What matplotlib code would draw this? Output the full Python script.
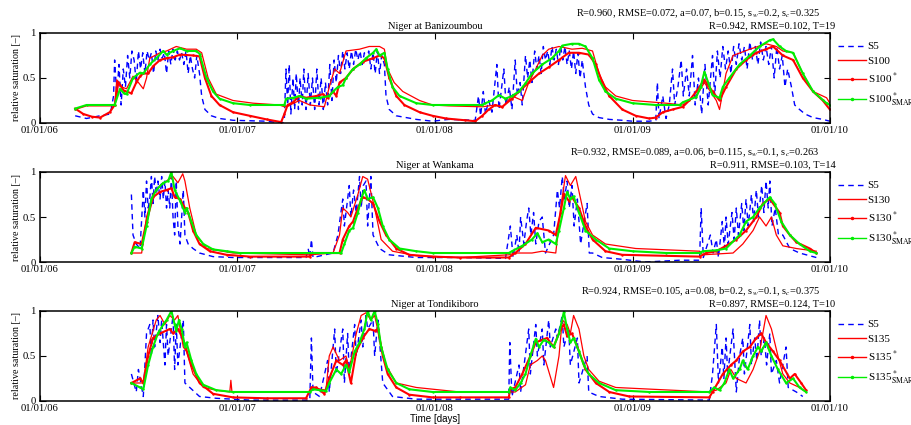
import numpy as np
import matplotlib
matplotlib.use('Agg')
import matplotlib.pyplot as plt

plt.rcParams['font.family'] = 'Liberation Serif'
plt.rcParams['mathtext.fontset'] = 'stix'

# days since 01/01/06, value = relative saturation
year_ticks = [0, 365, 730, 1096, 1461]
year_labels = ['01/01/06', '01/01/07', '01/01/08', '01/01/09', '01/01/10']

# ---------------- Niger at Banizoumbou ----------------
ban_s5 = [(65,0.08),(86,0.05),(111,0.08),(130,0.1),(136,0.3),(138,0.7),(142,0.3),(146,0.65),(150,0.2),(154,0.6),(158,0.4),
          (162,0.75),(166,0.5),(170,0.8),(174,0.7),(178,0.45),(182,0.8),(186,0.6),(190,0.78),(194,0.55),(198,0.8),(202,0.7),
          (206,0.78),(210,0.55),(214,0.8),(218,0.7),(222,0.82),(226,0.72),(230,0.78),(234,0.55),(238,0.8),(242,0.65),(246,0.82),
          (250,0.7),(254,0.8),(258,0.7),(262,0.78),(266,0.65),(270,0.8),(274,0.55),(278,0.75),(282,0.6),(286,0.5),(290,0.75),
          (295,0.55),(299,0.3),(305,0.15),(317,0.08),(332,0.05),(357,0.03),(419,0.02),(449,0.0),
          (452,0.05),(455,0.6),(458,0.2),(461,0.65),(464,0.1),(468,0.5),(471,0.15),(474,0.55),(478,0.15),(481,0.5),(485,0.2),
          (488,0.6),(492,0.15),(496,0.55),(500,0.2),(504,0.5),(508,0.15),(512,0.6),(516,0.2),(520,0.5),(524,0.15),(528,0.45),
          (532,0.2),(536,0.65),(540,0.25),(544,0.7),(548,0.45),(552,0.75),(556,0.55),(560,0.8),(564,0.6),(568,0.78),(572,0.6),
          (576,0.8),(580,0.65),(584,0.82),(588,0.7),(592,0.8),(596,0.65),(600,0.78),(604,0.7),(608,0.8),(612,0.6),(616,0.78),
          (620,0.55),(624,0.8),(628,0.55),(632,0.75),(637,0.65),(640,0.3),(646,0.15),(659,0.08),(696,0.04),(726,0.02),(756,0.04),
          (805,0.03),(811,0.3),(815,0.08),(820,0.35),(824,0.1),(830,0.25),(836,0.12),(845,0.65),(849,0.15),(858,0.6),(862,0.2),
          (868,0.4),(873,0.15),(879,0.7),(883,0.3),(888,0.45),(892,0.2),(898,0.75),(902,0.5),(906,0.7),(910,0.45),(915,0.8),
          (919,0.6),(923,0.75),(927,0.55),(931,0.85),(935,0.7),(939,0.8),(943,0.65),(947,0.85),(951,0.7),(955,0.82),(959,0.65),
          (963,0.85),(967,0.7),(971,0.85),(975,0.65),(979,0.8),(983,0.6),(987,0.8),(991,0.55),(995,0.78),(999,0.5),(1003,0.7),
          (1009,0.4),(1015,0.2),(1022,0.1),(1034,0.06),(1053,0.04),(1077,0.03),(1096,0.02),(1127,0.02),(1139,0.03),
          (1142,0.45),(1145,0.05),(1152,0.3),(1158,0.05),(1164,0.2),(1170,0.6),(1174,0.2),(1180,0.4),(1186,0.7),(1190,0.3),
          (1196,0.6),(1201,0.3),(1207,0.75),(1212,0.2),(1218,0.5),(1224,0.1),(1230,0.65),(1236,0.2),(1244,0.75),(1248,0.3),
          (1253,0.8),(1258,0.5),(1263,0.85),(1268,0.6),(1273,0.8),(1278,0.55),(1283,0.85),(1288,0.65),(1293,0.88),(1298,0.7),
          (1303,0.85),(1308,0.6),(1313,0.9),(1318,0.7),(1323,0.85),(1328,0.65),(1333,0.9),(1338,0.7),(1343,0.85),(1348,0.65),
          (1353,0.85),(1358,0.5),(1363,0.85),(1368,0.6),(1373,0.75),(1378,0.4),(1383,0.6),(1390,0.4),(1396,0.2),(1405,0.15),
          (1415,0.1),(1430,0.06),(1448,0.04),(1461,0.02)]
ban_s = [(65,0.15),(86,0.19),(138,0.19),(142,0.48),(151,0.4),(160,0.38),(172,0.52),(182,0.45),(191,0.38),(197,0.5),(203,0.72),
         (222,0.78),(234,0.8),(252,0.85),(271,0.82),(289,0.82),(299,0.78),(311,0.5),(326,0.32),(357,0.25),(394,0.22),(443,0.2),
         (452,0.18),(462,0.2),(480,0.25),(499,0.2),(526,0.18),(535,0.4),(545,0.6),(554,0.55),(566,0.8),(591,0.82),(609,0.85),
         (628,0.85),(637,0.82),(643,0.6),(655,0.45),(671,0.35),(702,0.25),(726,0.2),(756,0.19),(818,0.18),(842,0.2),(855,0.17),
         (873,0.3),(892,0.25),(904,0.45),(917,0.6),(929,0.75),(941,0.82),(960,0.85),(984,0.82),(1003,0.83),(1022,0.8),(1034,0.55),
         (1046,0.4),(1065,0.3),(1096,0.25),(1158,0.22),(1189,0.2),(1201,0.25),(1214,0.3),(1229,0.45),(1251,0.25),(1257,0.15),
         (1269,0.55),(1282,0.75),(1313,0.82),(1343,0.88),(1362,0.85),(1374,0.8),(1393,0.78),(1411,0.55),(1430,0.35),(1455,0.28),
         (1461,0.22)]
ban_sstar = [(65,0.16),(80,0.1),(96,0.07),(111,0.06),(129,0.12),(138,0.2),(145,0.45),(155,0.36),(169,0.33),(178,0.45),(185,0.52),
             (191,0.55),(200,0.55),(209,0.63),(222,0.7),(234,0.72),(246,0.73),(259,0.76),(283,0.75),(295,0.74),(305,0.5),(317,0.3),
             (332,0.2),(357,0.12),(388,0.08),(419,0.04),(446,0.01),(452,0.1),(458,0.2),(468,0.23),(480,0.3),(492,0.28),(511,0.3),
             (523,0.32),(532,0.28),(542,0.35),(548,0.3),(554,0.45),(566,0.5),(579,0.6),(597,0.68),(616,0.72),(628,0.75),(637,0.72),
             (646,0.5),(659,0.3),(674,0.2),(702,0.12),(726,0.08),(751,0.05),(787,0.03),(805,0.02),(818,0.08),(830,0.15),(842,0.2),
             (855,0.18),(873,0.27),(886,0.35),(904,0.45),(923,0.55),(941,0.62),(960,0.7),(978,0.78),(997,0.78),(1015,0.76),
             (1028,0.65),(1040,0.45),(1053,0.3),(1077,0.15),(1102,0.08),(1127,0.05),(1139,0.06),(1152,0.12),(1170,0.15),(1189,0.18),
             (1201,0.25),(1214,0.35),(1229,0.48),(1244,0.35),(1257,0.25),(1269,0.4),(1288,0.6),(1306,0.7),(1325,0.78),(1343,0.82),
             (1356,0.85),(1374,0.75),(1393,0.7),(1411,0.5),(1430,0.35),(1448,0.25),(1461,0.15)]
ban_smar = [(65,0.16),(86,0.2),(138,0.2),(148,0.38),(155,0.33),(160,0.32),(172,0.5),(185,0.56),(191,0.55),(203,0.65),(215,0.72),
            (228,0.8),(234,0.76),(246,0.8),(259,0.83),(271,0.8),(289,0.8),(295,0.77),(308,0.5),(320,0.35),(332,0.27),(357,0.22),
            (388,0.2),(452,0.2),(455,0.27),(468,0.28),(480,0.3),(492,0.27),(517,0.28),(535,0.3),(542,0.35),(551,0.4),(560,0.42),
            (566,0.5),(579,0.6),(591,0.65),(603,0.72),(616,0.78),(622,0.82),(628,0.75),(637,0.78),(643,0.6),(652,0.4),(665,0.3),
            (696,0.22),(726,0.2),(818,0.2),(824,0.22),(836,0.25),(849,0.31),(861,0.27),(873,0.3),(886,0.35),(898,0.44),(910,0.55),
            (929,0.65),(947,0.72),(960,0.8),(966,0.86),(984,0.88),(997,0.88),(1009,0.85),(1022,0.72),(1034,0.48),(1046,0.35),
            (1065,0.27),(1096,0.22),(1139,0.2),(1183,0.2),(1189,0.23),(1214,0.29),(1222,0.4),(1229,0.57),(1244,0.31),(1257,0.28),
            (1263,0.4),(1275,0.5),(1294,0.65),(1313,0.75),(1331,0.85),(1350,0.92),(1356,0.93),(1368,0.85),(1380,0.8),(1393,0.78),
            (1411,0.55),(1430,0.35),(1455,0.22),(1461,0.2)]

# ---------------- Niger at Wankama ----------------
wan_s5 = [(169,0.75),(172,0.3),(178,0.2),(185,0.15),(191,0.8),(194,0.5),(197,0.9),(200,0.6),(203,0.7),(206,0.95),(209,0.65),
          (212,0.95),(215,0.75),(218,0.9),(222,0.7),(225,0.95),(228,0.7),(231,0.9),(234,0.6),(237,0.8),(240,0.6),(243,0.95),
          (246,0.5),(249,0.3),(252,0.9),(255,0.4),(259,0.2),(265,0.8),(268,0.3),(274,0.2),(283,0.15),(295,0.1),(320,0.06),
          (357,0.05),(492,0.05),(496,0.15),(499,0.05),(502,0.25),(505,0.05),(542,0.1),(551,0.3),(560,0.7),(563,0.4),(567,0.6),
          (572,0.85),(575,0.5),(580,0.8),(585,0.55),(591,0.95),(594,0.6),(598,0.85),(603,0.9),(606,0.4),(612,0.95),(616,0.3),
          (628,0.15),(646,0.08),(696,0.05),(776,0.05),(861,0.04),(870,0.4),(875,0.05),(882,0.3),(886,0.1),(889,0.5),(895,0.2),
          (900,0.45),(904,0.6),(908,0.3),(913,0.55),(917,0.2),(923,0.45),(929,0.5),(935,0.1),(950,0.3),(957,0.8),(961,0.6),
          (966,0.95),(970,0.7),(975,0.9),(979,0.6),(984,0.85),(988,0.4),(994,0.7),(1000,0.2),(1012,0.65),(1016,0.1),(1022,0.1),
          (1040,0.05),(1077,0.03),(1120,0.0),(1183,0.02),(1220,0.02),(1223,0.6),(1227,0.05),(1240,0.3),(1245,0.1),(1251,0.25),
          (1255,0.05),(1262,0.45),(1266,0.15),(1269,0.5),(1273,0.2),(1280,0.55),(1284,0.25),(1288,0.6),(1292,0.3),(1298,0.65),
          (1302,0.35),(1306,0.7),(1310,0.4),(1316,0.75),(1320,0.45),(1325,0.8),(1329,0.5),(1335,0.85),(1339,0.55),(1343,0.9),
          (1347,0.6),(1350,0.9),(1354,0.4),(1360,0.6),(1366,0.3),(1374,0.3),(1387,0.15),(1405,0.1),(1436,0.05)]
wan_s = [(169,0.1),(188,0.1),(197,0.5),(209,0.75),(222,0.85),(234,0.9),(246,0.95),(255,0.88),(264,0.98),(268,0.9),(277,0.6),
         (289,0.3),(308,0.15),(357,0.1),(499,0.08),(542,0.1),(554,0.3),(560,0.6),(569,0.55),(575,0.5),(588,0.75),(597,0.95),
         (606,0.92),(619,0.6),(631,0.25),(652,0.12),(696,0.07),(776,0.05),(867,0.08),(879,0.1),(910,0.1),(929,0.12),(954,0.1),
         (963,0.6),(972,0.96),(981,0.85),(991,0.95),(1000,0.7),(1009,0.45),(1022,0.3),(1046,0.2),(1102,0.15),(1220,0.12),
         (1226,0.08),(1282,0.1),(1300,0.2),(1319,0.35),(1331,0.5),(1343,0.4),(1353,0.5),(1362,0.3),(1374,0.18),(1399,0.15),
         (1436,0.12)]
wan_sstar = [(169,0.1),(175,0.22),(188,0.2),(197,0.45),(209,0.72),(222,0.78),(234,0.8),(243,0.82),(249,0.72),(259,0.7),(268,0.6),
             (274,0.55),(283,0.35),(295,0.2),(314,0.12),(345,0.08),(388,0.06),(499,0.06),(505,0.1),(554,0.1),(560,0.25),(572,0.4),
             (579,0.45),(588,0.6),(597,0.72),(606,0.7),(616,0.65),(628,0.45),(640,0.3),(659,0.15),(683,0.08),(726,0.06),(776,0.05),
             (867,0.05),(879,0.1),(898,0.2),(917,0.38),(941,0.35),(954,0.3),(963,0.55),(969,0.76),(978,0.68),(984,0.72),(997,0.6),
             (1009,0.4),(1022,0.25),(1046,0.12),(1077,0.08),(1220,0.06),(1232,0.1),(1251,0.12),(1269,0.18),(1288,0.25),(1306,0.35),
             (1325,0.5),(1337,0.65),(1350,0.7),(1368,0.55),(1374,0.4),(1387,0.3),(1399,0.22),(1424,0.15),(1436,0.1)]
wan_smar = [(169,0.1),(175,0.17),(188,0.15),(197,0.4),(206,0.7),(215,0.8),(228,0.88),(237,0.9),(243,1.0),(249,0.8),(259,0.68),
            (268,0.55),(271,0.6),(280,0.45),(289,0.3),(302,0.2),(320,0.14),(345,0.12),(369,0.1),(557,0.1),(563,0.2),(572,0.35),
            (579,0.38),(588,0.55),(594,0.7),(600,0.8),(606,0.7),(616,0.72),(625,0.6),(634,0.4),(646,0.25),(665,0.15),(696,0.12),
            (726,0.1),(867,0.1),(873,0.12),(892,0.18),(910,0.25),(920,0.32),(929,0.22),(941,0.25),(954,0.2),(960,0.35),(969,0.6),
            (975,0.78),(981,0.7),(987,0.73),(997,0.55),(1009,0.35),(1028,0.25),(1053,0.15),(1096,0.12),(1158,0.1),(1220,0.1),
            (1226,0.12),(1251,0.13),(1269,0.15),(1294,0.3),(1306,0.45),(1319,0.5),(1331,0.6),(1350,0.72),(1359,0.65),(1371,0.45),
            (1387,0.3),(1405,0.2),(1424,0.12),(1436,0.1)]

# ---------------- Niger at Tondikiboro ----------------
ton_s5 = [(169,0.3),(178,0.1),(182,0.35),(191,0.05),(197,0.75),(203,0.85),(206,0.5),(209,0.9),(212,0.6),(218,0.95),(222,0.65),
          (225,0.9),(231,0.4),(234,0.85),(237,0.5),(246,0.95),(249,0.35),(252,0.85),(255,0.4),(265,0.9),(268,0.2),(277,0.15),
          (295,0.05),(326,0.03),(388,0.01),(499,0.01),(502,0.7),(505,0.1),(517,0.05),(532,0.45),(535,0.1),(545,0.8),(548,0.3),
          (560,0.8),(563,0.2),(569,0.75),(572,0.3),(582,0.85),(585,0.5),(594,0.9),(597,0.6),(603,0.95),(606,0.8),(616,0.9),
          (619,0.5),(625,0.9),(634,0.2),(652,0.05),(696,0.02),(776,0.02),(867,0.02),(869,0.65),(873,0.05),(886,0.4),(889,0.1),
          (904,0.8),(907,0.3),(917,0.85),(920,0.5),(929,0.8),(932,0.4),(941,0.9),(944,0.6),(954,0.8),(957,0.7),(966,0.95),
          (969,0.6),(978,0.8),(981,0.4),(994,0.7),(997,0.2),(1012,0.5),(1015,0.1),(1034,0.05),(1077,0.02),(1238,0.01),(1244,0.3),
          (1251,0.85),(1255,0.2),(1262,0.6),(1265,0.25),(1269,0.7),(1272,0.3),(1282,0.8),(1288,0.1),(1294,0.5),(1300,0.7),
          (1303,0.3),(1313,0.85),(1316,0.4),(1322,0.7),(1326,0.45),(1331,0.9),(1334,0.5),(1340,0.7),(1344,0.4),(1350,0.75),
          (1353,0.3),(1362,0.45),(1368,0.2),(1380,0.6),(1384,0.15),(1399,0.1),(1411,0.05)]
ton_s = [(169,0.2),(191,0.2),(200,0.6),(215,0.9),(222,0.95),(231,0.85),(240,0.95),(249,0.9),(255,0.95),(265,0.6),(271,0.55),
         (283,0.3),(302,0.15),(326,0.12),(351,0.1),(353,0.23),(355,0.1),(499,0.1),(502,0.15),(529,0.12),(535,0.5),(542,0.6),
         (554,0.45),(566,0.5),(572,0.35),(585,0.75),(594,0.95),(603,0.98),(612,0.9),(619,0.95),(628,0.7),(640,0.4),(659,0.2),
         (696,0.15),(776,0.1),(867,0.1),(879,0.1),(898,0.18),(907,0.4),(920,0.45),(929,0.5),(935,0.45),(950,0.15),(960,0.5),
         (966,0.9),(975,0.85),(981,0.75),(987,0.95),(997,0.8),(1006,0.5),(1015,0.35),(1034,0.22),(1065,0.15),(1238,0.1),
         (1251,0.12),(1269,0.2),(1278,0.35),(1288,0.25),(1306,0.2),(1319,0.35),(1331,0.55),(1343,0.95),(1353,0.8),(1365,0.5),
         (1374,0.3),(1387,0.2),(1405,0.15),(1417,0.1)]
ton_sstar = [(169,0.2),(185,0.25),(191,0.2),(200,0.5),(209,0.7),(222,0.75),(240,0.8),(246,0.75),(255,0.8),(262,0.72),(268,0.62),
             (280,0.4),(295,0.2),(320,0.08),(357,0.04),(419,0.03),(492,0.03),(502,0.15),(511,0.15),(526,0.08),(535,0.25),(548,0.45),
             (560,0.4),(566,0.45),(575,0.2),(585,0.55),(597,0.7),(609,0.8),(619,0.78),(625,0.8),(634,0.5),(643,0.3),(659,0.15),
             (683,0.07),(726,0.04),(776,0.04),(867,0.04),(870,0.13),(879,0.15),(892,0.3),(907,0.5),(917,0.65),(929,0.68),(938,0.7),
             (950,0.6),(963,0.8),(969,0.85),(975,0.72),(984,0.75),(994,0.6),(1009,0.35),(1028,0.2),(1053,0.1),(1090,0.05),
             (1238,0.04),(1244,0.1),(1263,0.3),(1278,0.4),(1288,0.45),(1300,0.55),(1313,0.6),(1325,0.7),(1334,0.75),(1343,0.65),
             (1356,0.55),(1368,0.45),(1387,0.25),(1396,0.3),(1408,0.2),(1417,0.12)]
ton_smar = [(169,0.2),(185,0.15),(191,0.13),(200,0.4),(209,0.6),(218,0.75),(228,0.85),(234,0.9),(243,1.0),(249,0.85),(252,0.78),
            (257,0.9),(262,0.8),(268,0.6),(271,0.65),(280,0.45),(289,0.3),(302,0.18),(326,0.12),(357,0.1),(499,0.1),(505,0.13),
            (517,0.12),(529,0.11),(535,0.2),(548,0.35),(557,0.3),(566,0.4),(572,0.32),(582,0.55),(591,0.65),(600,0.8),(606,1.0),
            (612,0.9),(619,1.0),(625,0.85),(631,0.6),(643,0.35),(659,0.2),(683,0.13),(726,0.1),(867,0.1),(870,0.15),(879,0.12),
            (889,0.2),(898,0.3),(907,0.5),(917,0.69),(923,0.6),(932,0.68),(941,0.65),(950,0.6),(960,0.75),(969,0.99),(975,0.8),
            (981,0.65),(987,0.7),(997,0.55),(1006,0.4),(1015,0.3),(1034,0.2),(1065,0.12),(1127,0.1),(1238,0.1),(1247,0.15),
            (1257,0.12),(1266,0.2),(1275,0.35),(1282,0.25),(1294,0.35),(1300,0.45),(1309,0.35),(1319,0.5),(1328,0.6),(1334,0.55),
            (1343,0.65),(1353,0.5),(1365,0.35),(1380,0.2),(1393,0.25),(1405,0.15),(1417,0.1)]

panels = [
    ('Niger at Banizoumbou', '100', ban_s5, ban_s, ban_sstar, ban_smar,
     r'R=0.960, RMSE=0.072, a=0.07, b=0.15, s$_w$=0.2, s$_c$=0.325', 'R=0.942, RMSE=0.102, T=19'),
    ('Niger at Wankama', '130', wan_s5, wan_s, wan_sstar, wan_smar,
     r'R=0.932, RMSE=0.089, a=0.06, b=0.115, s$_w$=0.1, s$_c$=0.263', 'R=0.911, RMSE=0.103, T=14'),
    ('Niger at Tondikiboro', '135', ton_s5, ton_s, ton_sstar, ton_smar,
     r'R=0.924, RMSE=0.105, a=0.08, b=0.2, s$_w$=0.1, s$_c$=0.375', 'R=0.897, RMSE=0.124, T=10'),
]

fig = plt.figure(figsize=(9.12, 4.25), dpi=100)
bottoms = [0.7106, 0.3835, 0.0565]
h = 0.2118

for k, (title, depth, s5, s, sstar, smar, txt1, txt2) in enumerate(panels):
    ax = fig.add_axes([0.0439, bottoms[k], 0.866, h])
    t, v = zip(*s5)
    ax.plot(t, v, '--', color='#0000ff', lw=1.0, dashes=(4, 3), label='S5')
    t, v = zip(*s)
    ax.plot(t, v, '-', color='#ff0000', lw=0.9, label='S' + depth)
    t, v = zip(*sstar)
    ax.plot(t, v, '-', color='#ff0000', lw=1.5, marker='.', ms=1.5, label='S' + depth + '$^*$')
    t, v = zip(*smar)
    ax.plot(t, v, '-', color='#00ee00', lw=1.5, marker='.', ms=1.5,
            label='S' + depth + r'$^*_{\mathrm{SMAR}}$')

    ax.set_xlim(0, 1461)
    ax.set_ylim(0, 1)
    ax.set_xticks(year_ticks)
    ax.set_xticklabels(year_labels)
    ax.set_yticks([0, 0.5, 1])
    ax.set_yticklabels(['0', '0.5', '1'])
    ax.tick_params(direction='in', top=True, right=True, length=4, width=0.8, labelsize=7.7, pad=2)
    ax.tick_params(axis='y', pad=3)
    for sp in ax.spines.values():
        sp.set_linewidth(1.1)
    ax.set_ylabel('relative saturation [\u2013]', fontsize=7.2, labelpad=1)
    ax.set_title(title, fontsize=7.5, pad=3)

    top = bottoms[k] + h
    fig.text(0.899, top + 0.040, txt1, fontsize=7.5, ha='right', va='baseline')
    fig.text(0.916, top + 0.011, txt2, fontsize=7.5, ha='right', va='baseline')

    leg = ax.legend(loc='upper left', bbox_to_anchor=(1.0, 0.99), frameon=False, fontsize=8,
                    handlelength=2.6, handletextpad=0.1, labelspacing=0.45, borderaxespad=0.3)
    for ln in leg.get_lines():
        ln.set_linewidth(1.0)
        ln.set_markersize(3)

fig.text(0.477, 0.003, 'Time [days]', fontsize=7, family='Liberation Sans', ha='center', va='bottom')

fig.savefig('out.png', dpi=100)
